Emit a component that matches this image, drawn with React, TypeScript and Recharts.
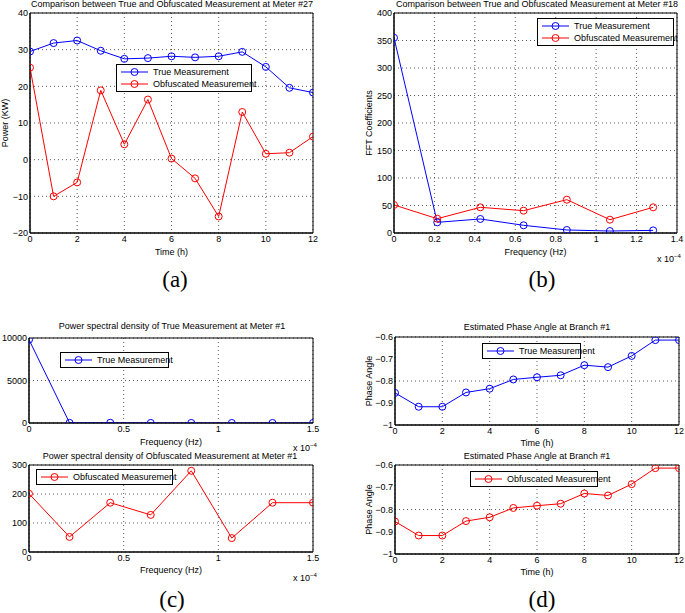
import { CartesianGrid, Line, LineChart, ReferenceArea, XAxis, YAxis } from "recharts";

// (a) hourly power at meter #27
const hours = [0, 1, 2, 3, 4, 5, 6, 7, 8, 9, 10, 11, 12];
const trueMeter27 = [29.5, 31.8, 32.5, 29.7, 27.5, 27.7, 28.2, 27.9, 28.2, 29.4, 25.3, 19.6, 18.3];
const obfMeter27 = [25.1, -10, -6.2, 18.9, 4.2, 16.4, 0.3, -5.1, -15.5, 13, 1.6, 1.9, 6.3];

// (b) FFT coefficients at meter #18 (frequency in 1e-4 Hz)
const fftFreq = [0, 0.214, 0.427, 0.641, 0.855, 1.068, 1.282];
const trueFft18 = [355, 19.4, 25.5, 14, 5.5, 3.6, 4.8];
const obfFft18 = [51, 26, 46.7, 40.6, 60.6, 24.2, 46.7];

// (c) power spectral density at meter #1 (frequency in 1e-4 Hz)
const psdFreq = [0, 0.214, 0.429, 0.643, 0.857, 1.071, 1.286, 1.5];
const psdTrue = [9800, 20, 30, 10, 8, 5, 6, 5];
const psdObf = [201, 52, 170, 128, 280, 48, 170, 170];

// (d) estimated phase angle at branch #1
const phaseTrue = [-0.854, -0.917, -0.917, -0.852, -0.835, -0.793, -0.783, -0.774, -0.728, -0.737, -0.686, -0.614, -0.614];
const phaseObf = [-0.854, -0.917, -0.917, -0.852, -0.835, -0.793, -0.783, -0.774, -0.728, -0.737, -0.686, -0.614, -0.614];

const TRUE_NAME = "True Measurement";
const OBF_NAME = "Obfuscated Measurement";
const BLUE = "#0000ff";
const RED = "#ff0000";

const FONT = "'Liberation Sans', Arial, Helvetica, sans-serif";

type Series = { name: string; values: number[]; color: string };

const fmt = (v: number) => String(v).replace("-", "\u2212");

interface PanelProps {
  plot: [number, number, number, number]; // x0, y0, x1, y1 of plot box on page
  xs: number[];
  series: Series[];
  xDomain: [number, number];
  xTicks: number[];
  yDomain: [number, number];
  yTicks: number[];
  xLabel: string;
  yLabel?: string;
  yLabelOffset?: number;
  yWidth?: number;
  xHeight?: number;
}

function Panel({
  plot,
  xs,
  series,
  xDomain,
  xTicks,
  yDomain,
  yTicks,
  xLabel,
  yLabel,
  yLabelOffset = 4,
  yWidth = 30,
  xHeight = 22,
}: PanelProps) {
  const [x0, y0, x1, y1] = plot;
  const padTop = 6;
  const padRight = 8;
  const padBottom = 5;
  const rows = xs.map((x, i) => {
    const r: Record<string, number> = { x };
    series.forEach((s, k) => (r["s" + k] = s.values[i]));
    return r;
  });
  return (
    <div style={{ position: "absolute", left: x0 - yWidth, top: y0 - padTop }}>
      <LineChart
        width={x1 - x0 + yWidth + padRight}
        height={y1 - y0 + xHeight + padTop + padBottom}
        data={rows}
        margin={{ top: padTop, right: padRight, bottom: padBottom, left: 0 }}
        style={{ overflow: "visible" }}
      >
        <CartesianGrid stroke="#333" strokeDasharray="1 3" strokeWidth={0.8} />
        <XAxis
          dataKey="x"
          type="number"
          domain={xDomain}
          ticks={xTicks}
          allowDataOverflow
          height={xHeight}
          tickLine={false}
          tickSize={2}
          tickMargin={1}
          axisLine={{ stroke: "#000" }}
          tick={{ fontSize: 9, fill: "#000" }}
          tickFormatter={fmt}
          label={{ value: xLabel, position: "insideBottom", offset: 0, fontSize: 9, fill: "#000" }}
        />
        <YAxis
          type="number"
          domain={yDomain}
          ticks={yTicks}
          allowDataOverflow
          width={yWidth}
          tickLine={false}
          tickSize={2}
          tickMargin={0}
          axisLine={{ stroke: "#000" }}
          tick={{ fontSize: 9, fill: "#000" }}
          tickFormatter={fmt}
          label={
            yLabel
              ? {
                  value: yLabel,
                  angle: -90,
                  position: "insideLeft",
                  offset: yLabelOffset,
                  fontSize: 9,
                  fill: "#000",
                  style: { textAnchor: "middle" },
                }
              : undefined
          }
        />
        <ReferenceArea
          x1={xDomain[0]}
          x2={xDomain[1]}
          y1={yDomain[0]}
          y2={yDomain[1]}
          fill="none"
          stroke="#000"
          strokeWidth={1}
        />
        {series.map((s, k) => (
          <Line
            key={s.name}
            type="linear"
            dataKey={"s" + k}
            stroke={s.color}
            strokeWidth={1}
            dot={{ r: 3.5, stroke: s.color, fill: "none", strokeWidth: 1 }}
            activeDot={false}
            isAnimationActive={false}
          />
        ))}
      </LineChart>
    </div>
  );
}

function LegendBox({ left, top, width, items }: { left: number; top: number; width: number; items: Series[] }) {
  return (
    <div
      style={{
        position: "absolute",
        left,
        top,
        width,
        border: "1px solid #000",
        background: "#fff",
        boxSizing: "border-box",
        padding: "1px 0",
      }}
    >
      {items.map((it) => (
        <div key={it.name} style={{ display: "flex", alignItems: "center", height: 12, fontSize: 9 }}>
          <svg width={33} height={12} style={{ flex: "none" }}>
            <line x1={4} x2={31} y1={6} y2={6} stroke={it.color} strokeWidth={1} />
            <circle cx={17.5} cy={6} r={3.5} stroke={it.color} fill="none" strokeWidth={1} />
          </svg>
          <span style={{ marginLeft: 3, whiteSpace: "nowrap" }}>{it.name}</span>
        </div>
      ))}
    </div>
  );
}

function Caption({ x, y, children, size = 9 }: { x: number; y: number; children: React.ReactNode; size?: number }) {
  return (
    <div
      style={{
        position: "absolute",
        left: x - 200,
        top: y - size / 2 - 1,
        width: 400,
        textAlign: "center",
        fontSize: size,
        lineHeight: `${size + 2}px`,
        whiteSpace: "nowrap",
      }}
    >
      {children}
    </div>
  );
}

function Scale({ x, y }: { x: number; y: number }) {
  return (
    <div style={{ position: "absolute", left: x, top: y - 6, fontSize: 9, lineHeight: "12px", whiteSpace: "nowrap" }}>
      x 10<sup style={{ fontSize: 6, verticalAlign: 4 }}>{"\u22124"}</sup>
    </div>
  );
}

function Letter({ x, y, children }: { x: number; y: number; children: string }) {
  return (
    <div
      style={{
        position: "absolute",
        left: x - 40,
        top: y - 14,
        width: 80,
        textAlign: "center",
        fontFamily: "'Liberation Serif', 'Times New Roman', serif",
        fontSize: 23,
        lineHeight: "28px",
      }}
    >
      {children}
    </div>
  );
}

export default function App() {
  const aSeries: Series[] = [
    { name: TRUE_NAME, values: trueMeter27, color: BLUE },
    { name: OBF_NAME, values: obfMeter27, color: RED },
  ];
  const bSeries: Series[] = [
    { name: TRUE_NAME, values: trueFft18, color: BLUE },
    { name: OBF_NAME, values: obfFft18, color: RED },
  ];
  const cTop: Series[] = [{ name: TRUE_NAME, values: psdTrue, color: BLUE }];
  const cBottom: Series[] = [{ name: OBF_NAME, values: psdObf, color: RED }];
  const dTop: Series[] = [{ name: TRUE_NAME, values: phaseTrue, color: BLUE }];
  const dBottom: Series[] = [{ name: OBF_NAME, values: phaseObf, color: RED }];

  return (
    <div
      style={{
        position: "absolute",
        left: 0,
        top: 0,
        width: 685,
        height: 613,
        overflow: "hidden",
        background: "#fff",
        fontFamily: FONT,
        color: "#000",
      }}
    >
      {/* (a) */}
      <Caption x={172} y={4}>Comparison between True and Obfuscated Measurement at Meter #27</Caption>
      <Panel
        plot={[30, 13, 313, 233]}
        xs={hours}
        series={aSeries}
        xDomain={[0, 12]}
        xTicks={[0, 2, 4, 6, 8, 10, 12]}
        yDomain={[-20, 40]}
        yTicks={[-20, -10, 0, 10, 20, 30, 40]}
        xLabel="Time (h)"
        yLabel="Power (KW)"
        yLabelOffset={5}
        xHeight={22}
      />
      <LegendBox left={116} top={64} width={136} items={aSeries} />
      <Letter x={175} y={280}>(a)</Letter>

      {/* (b) */}
      <Caption x={537} y={4}>Comparison between True and Obfuscated Measurement at Meter #18</Caption>
      <Panel
        plot={[394, 13, 677, 233]}
        xs={fftFreq}
        series={bSeries}
        xDomain={[0, 1.4]}
        xTicks={[0, 0.2, 0.4, 0.6, 0.8, 1, 1.2, 1.4]}
        yDomain={[0, 400]}
        yTicks={[0, 50, 100, 150, 200, 250, 300, 350, 400]}
        xLabel="Frequency (Hz)"
        yLabel="FFT Coefficients"
        yLabelOffset={5}
        xHeight={22}
      />
      <LegendBox left={537} top={18} width={137} items={bSeries} />
      <Scale x={657} y={256} />
      <Letter x={542} y={280}>(b)</Letter>

      {/* (c) */}
      <Caption x={172} y={326}>Power spectral density of True Measurement at Meter #1</Caption>
      <Panel
        plot={[29, 338, 313, 423]}
        xs={psdFreq}
        series={cTop}
        xDomain={[0, 1.5]}
        xTicks={[0, 0.5, 1, 1.5]}
        yDomain={[0, 10000]}
        yTicks={[0, 5000, 10000]}
        xLabel="Frequency (Hz)"
        yWidth={29}
        xHeight={22}
      />
      <LegendBox left={60} top={352} width={109} items={cTop} />
      <Scale x={293} y={445} />
      <Caption x={170} y={456}>Power spectral density of Obfuscated Measurement at Meter #1</Caption>
      <Panel
        plot={[29, 465, 313, 552]}
        xs={psdFreq}
        series={cBottom}
        xDomain={[0, 1.5]}
        xTicks={[0, 0.5, 1, 1.5]}
        yDomain={[0, 300]}
        yTicks={[0, 100, 200, 300]}
        xLabel="Frequency (Hz)"
        yWidth={29}
        xHeight={21}
      />
      <LegendBox left={36} top={469} width={137} items={cBottom} />
      <Scale x={293} y={575} />
      <Letter x={172} y={600}>(c)</Letter>

      {/* (d) */}
      <Caption x={537} y={327}>Estimated Phase Angle at Branch #1</Caption>
      <Panel
        plot={[395, 337, 679, 425]}
        xs={hours}
        series={dTop}
        xDomain={[0, 12]}
        xTicks={[0, 2, 4, 6, 8, 10, 12]}
        yDomain={[-1, -0.6]}
        yTicks={[-1, -0.9, -0.8, -0.7, -0.6]}
        xLabel="Time (h)"
        yLabel="Phase Angle"
        yLabelOffset={4}
        xHeight={21}
      />
      <LegendBox left={482} top={343} width={99} items={dTop} />
      <Caption x={537} y={456}>Estimated Phase Angle at Branch #1</Caption>
      <Panel
        plot={[395, 465, 679, 554]}
        xs={hours}
        series={dBottom}
        xDomain={[0, 12]}
        xTicks={[0, 2, 4, 6, 8, 10, 12]}
        yDomain={[-1, -0.6]}
        yTicks={[-1, -0.9, -0.8, -0.7, -0.6]}
        xLabel="Time (h)"
        yLabel="Phase Angle"
        yLabelOffset={4}
        xHeight={21}
      />
      <LegendBox left={470} top={471} width={128} items={dBottom} />
      <Letter x={542} y={600}>(d)</Letter>
    </div>
  );
}
